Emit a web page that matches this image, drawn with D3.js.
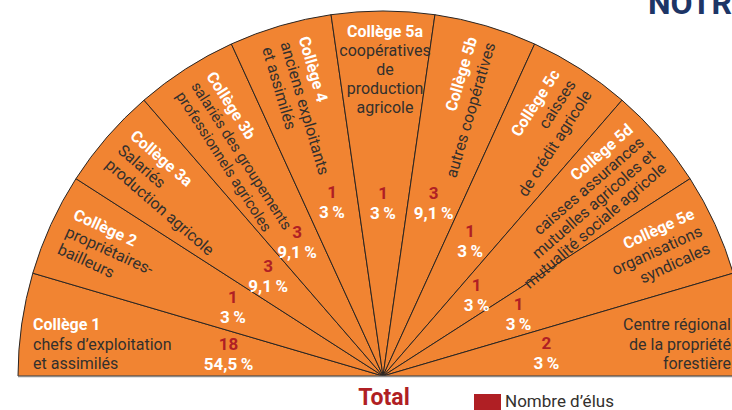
<!DOCTYPE html>
<html lang="fr">
  <head>
    <meta charset="UTF-8" />
    <script src="https://d3js.org/d3.v7.min.js"></script>
    <title>Collèges</title>
    <style>
      body { margin: 0; background: #fff; }
      text { font-family: Roboto, "Noto Sans", sans-serif; }
    </style>
  </head>
  <body>
    <svg id="chart" width="732" height="410"></svg>

    <script>
      // data
      const titles = ["Collège 1", "Collège 2", "Collège 3a", "Collège 3b", "Collège 4",
        "Collège 5a", "Collège 5b", "Collège 5c", "Collège 5d", "Collège 5e", ""];
      const descriptions = [
        ["chefs d’exploitation", "et assimilés"],
        ["propriétaires-", "bailleurs"],
        ["Salariés", "production agricole"],
        ["salariés des groupements", "professionnels agricoles"],
        ["anciens exploitants", "et assimilés"],
        ["coopératives", "de", "production", "agricole"],
        ["autres coopératives"],
        ["caisses", "de crédit agricole"],
        ["caisses assurances", "mutuelles agricoles et", "mutualité sociale agricole"],
        ["organisations", "syndicales"],
        ["Centre régional", "de la propriété", "forestière"]
      ];
      const elus = [18, 1, 3, 3, 1, 1, 3, 1, 1, 1, 2];
      const pctLabels = ["54,5\u2009%", "3\u2009%", "9,1\u2009%", "9,1\u2009%", "3\u2009%", "3\u2009%",
        "9,1\u2009%", "3\u2009%", "3\u2009%", "3\u2009%", "3\u2009%"];

      // layout: distance of the value labels from the centre
      const valueRadius = [156, 165, 152, 159, 181, 173, 180, 161, 124, 149, 165];

      const orange = "#f18432";
      const red = "#b01f24";
      const dark = "#33302d";

      const svg = d3.select("#chart");
      const cx = 383, cy = 376, R = 365;

      const pie = d3.pie().value(() => 1).sort(null)
        .startAngle(-Math.PI / 2).endAngle(Math.PI / 2);
      const arcs = pie(titles);
      const arc = d3.arc().innerRadius(0).outerRadius(R);

      const g = svg.append("g").attr("transform", `translate(${cx},${cy})`);

      g.selectAll("path.slice")
        .data(arcs)
        .enter()
        .append("path")
        .attr("class", "slice")
        .attr("d", arc)
        .attr("fill", orange)
        .attr("stroke", "#2a2522")
        .attr("stroke-width", 1);

      // base line
      svg.append("line")
        .attr("x1", cx - R).attr("x2", 732)
        .attr("y1", cy + 0.5).attr("y2", cy + 0.5)
        .attr("stroke", "#8a8a8a").attr("stroke-width", 1.5);

      const mid = d => (d.startAngle + d.endAngle) / 2;
      const deg = a => a * 180 / Math.PI;

      // sector labels
      arcs.forEach((d, i) => {
        const lines = titles[i] ? [titles[i]].concat(descriptions[i]) : descriptions[i];
        const a = deg(mid(d));
        let grp, lh = 19, fs = 16;
        if (i === 0 || i === arcs.length - 1) {
          const first = i === 0;
          grp = svg.append("g").attr("transform", first ? "translate(33,330)" : "translate(731,330)");
          lines.forEach((t, j) => {
            const bold = j === 0 && titles[i];
            grp.append("text").attr("x", 0).attr("y", j * 19.5)
              .attr("text-anchor", first ? "start" : "end")
              .attr("font-size", 16)
              .attr("font-weight", bold ? 700 : 400)
              .attr("fill", bold ? "#fff" : dark)
              .text(t);
          });
          return;
        }
        if (i === 5) {
          grp = g.append("g");
          lines.forEach((t, j) => {
            grp.append("text").attr("x", 2).attr("y", -339 + j * 19)
              .attr("text-anchor", "middle")
              .attr("font-size", 16)
              .attr("font-weight", j === 0 ? 700 : 400)
              .attr("fill", j === 0 ? "#fff" : dark)
              .text(t);
          });
          return;
        }
        const left = i < 5;
        if (i === 8) lh = 17;
        if (i === 3) { fs = 15; lh = 18; }
        grp = g.append("g").attr("transform", `rotate(${left ? a + 90 : a - 90})`);
        const n = lines.length;
        lines.forEach((t, j) => {
          grp.append("text")
            .attr("x", left ? -348 : 350)
            .attr("y", (j - (n - 1) / 2) * lh + 5)
            .attr("text-anchor", left ? "start" : "end")
            .attr("font-size", j === 0 ? 16 : fs)
            .attr("font-weight", j === 0 ? 700 : 400)
            .attr("fill", j === 0 ? "#fff" : dark)
            .text(t);
        });
      });

      // values
      const vals = g.selectAll("g.val")
        .data(arcs)
        .enter()
        .append("g")
        .attr("class", "val")
        .attr("transform", (d, i) => {
          const a = mid(d), r = valueRadius[i];
          return `translate(${r * Math.sin(a)},${-r * Math.cos(a)})`;
        });
      vals.append("text")
        .attr("y", -4)
        .attr("text-anchor", "middle")
        .attr("font-size", 17)
        .attr("font-weight", 700)
        .attr("fill", red)
        .text((d, i) => elus[i]);
      vals.append("text")
        .attr("y", 16)
        .attr("text-anchor", "middle")
        .attr("font-size", 17)
        .attr("font-weight", 700)
        .attr("fill", "#fff")
        .text((d, i) => pctLabels[i]);

      // title (cut off at the top right, as in the source page)
      svg.append("text")
        .attr("x", 648).attr("y", 14)
        .attr("font-size", 32)
        .attr("font-weight", 700)
        .attr("fill", "#1d3566")
        .text("NOTRE");

      // total + legend
      svg.append("text")
        .attr("x", cx + 1).attr("y", 405)
        .attr("text-anchor", "middle")
        .attr("font-size", 23)
        .attr("font-weight", 700)
        .attr("fill", red)
        .text("Total");

      svg.append("rect")
        .attr("x", 474).attr("y", 394)
        .attr("width", 27).attr("height", 16)
        .attr("fill", red);
      svg.append("text")
        .attr("x", 505).attr("y", 407)
        .attr("font-size", 17)
        .attr("fill", dark)
        .text("Nombre d’élus");
    </script>
  </body>
</html>
